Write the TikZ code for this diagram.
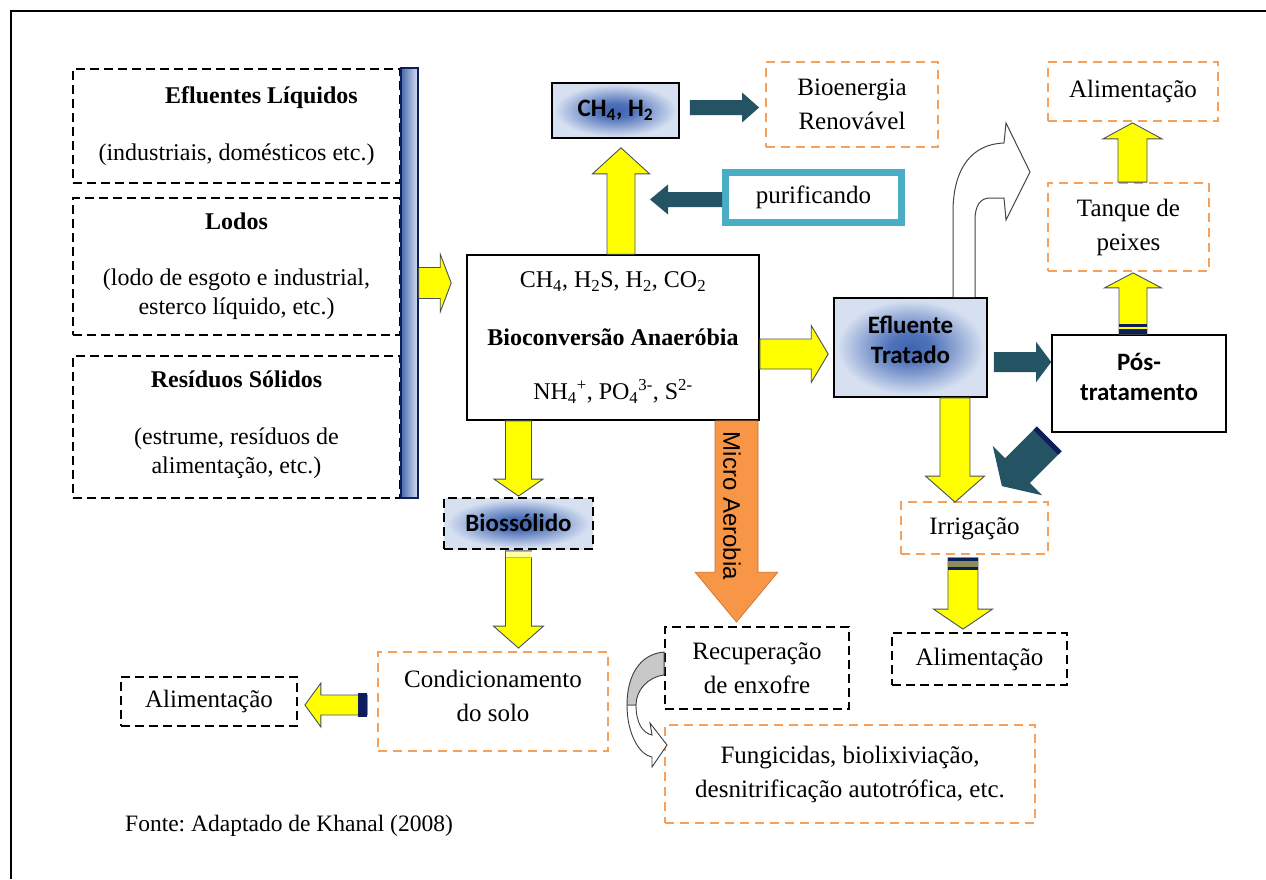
\documentclass[tikz,border=0pt]{standalone}
\usepackage{fontspec}
\setmainfont{Liberation Serif}
\newfontfamily\calib{Carlito}
\newfontfamily\arialf{Liberation Sans}
\usetikzlibrary{calc}
\frenchspacing

\definecolor{ylw}{RGB}{255,255,0}
\definecolor{yedge}{RGB}{70,80,100}
\definecolor{dteal}{RGB}{36,84,100}
\definecolor{navy}{RGB}{15,30,90}
\definecolor{oline}{RGB}{247,160,90}
\definecolor{ofill}{RGB}{247,150,70}
\definecolor{oedge}{RGB}{200,110,50}
\definecolor{purcol}{RGB}{75,172,198}
\definecolor{bdark}{RGB}{62,100,178}
\definecolor{blight}{RGB}{214,224,241}
\definecolor{olivebar}{RGB}{140,140,90}
\definecolor{cgray}{RGB}{200,200,200}

% soft blue glow used for the highlighted boxes
\pgfdeclareradialshading{boxglow}{\pgfpoint{0bp}{0bp}}{%
  color(0bp)=(bdark); color(7bp)=(bdark!88!blight); color(24bp)=(blight); color(50bp)=(blight)}

% block arrow: style, tail, tip, half shaft width, half head width, head length
\newcommand\blockarrow[6]{%
  \coordinate (hb) at ($(#3)!#6!(#2)$);
  \path[#1] ($(#2)!#4!90:(#3)$) -- ($(hb)!#4!90:(#3)$) -- ($(hb)!#5!90:(#3)$)
    -- (#3) -- ($(hb)!#5!-90:(#3)$) -- ($(hb)!#4!-90:(#3)$)
    -- ($(#2)!#4!-90:(#3)$) -- cycle;
}

\newcommand\fsL{\fontsize{24}{29}\selectfont}
\newcommand\fsM{\fontsize{25}{34}\selectfont}
\newcommand\fsS{\calib\fontsize{25}{30}\selectfont\bfseries}

\begin{document}
\begin{tikzpicture}[x=1pt,y=-1pt,
  dbox/.style={draw=black, dash pattern=on 9pt off 5pt, line width=1.8pt, fill=white,
    inner sep=0pt, align=center, font=\fsM},
  obox/.style={draw=oline, dash pattern=on 9pt off 6pt, line width=1.8pt, fill=white,
    inner sep=0pt, align=center, font=\fsM},
  sbox/.style={draw=black, line width=1.6pt, inner sep=0pt, align=center},
  gshade/.style={shading=boxglow},
  yel/.style={fill=ylw, draw=yedge, line width=0.9pt},
  dark/.style={fill=dteal},
  orng/.style={fill=ofill, draw=oedge, line width=0.6pt},
  curv/.style={draw=gray!55!black, line width=1pt, fill=white},
]
\useasboundingbox (0,0) rectangle (1266,879);

% page frame
\draw[line width=2.6pt] (11,879) -- (11,11) -- (1266,11);

% input boxes
\node[dbox, font=\fsL, minimum width=327pt, minimum height=114pt] (ef) at (236.5,126)
  {\hspace*{50pt}\textbf{Efluentes Líquidos}\\[28pt](industriais, domésticos etc.)};
\node[dbox, font=\fsL, minimum width=327pt, minimum height=137pt] (lo) at (236.5,266.5)
  {\textbf{Lodos}\\[27pt](lodo de esgoto e industrial,\\esterco líquido, etc.)};
\node[dbox, font=\fsL, minimum width=327pt, minimum height=142pt, text depth=10pt] (rs) at (236.5,427)
  {\textbf{Resíduos Sólidos}\\[28pt](estrume, resíduos de\\alimentação, etc.)};
\node[draw=navy, line width=1.5pt, left color={rgb,255:red,70;green,105;blue,170},
  right color={rgb,255:red,214;green,224;blue,242}, minimum width=17pt,
  minimum height=430pt, inner sep=0pt] (bar) at (409.5,283) {};

% digester
\node[sbox, fill=white, font=\fsL, minimum width=292pt, minimum height=165pt] (cb) at (613,337.5)
  {CH\textsubscript{4}, H\textsubscript{2}S, H\textsubscript{2}, CO\textsubscript{2}\\[29pt]
   \textbf{Bioconversão Anaeróbia}\\[25pt]
   NH\textsubscript{4}\textsuperscript{+}, PO\textsubscript{4}\textsuperscript{3-}, S\textsuperscript{2-}};

% gas line
\node[sbox, gshade, font=\fsS, minimum width=127pt, minimum height=55pt] (ch) at (615.5,110.5)
  {CH\textsubscript{4}, H\textsubscript{2}};
\node[obox, minimum width=172pt, minimum height=85pt] (bio) at (852,104.5) {Bioenergia\\Renovável};
\node[draw=purcol, line width=7pt, fill=white, font=\fsM, minimum width=176pt,
  minimum height=50pt, inner sep=0pt] (pur) at (813.5,197.5) {purificando};

% effluent line
\node[sbox, gshade, font=\fsS, minimum width=153pt, minimum height=99pt, text depth=15pt] (eft)
  at (910.5,347.5) {Efluente\\Tratado};
\node[sbox, fill=white, font=\fsS, minimum width=174pt, minimum height=97pt, text depth=14pt] (pos)
  at (1139,383.5) {Pós-\\tratamento};
\node[obox, minimum width=161pt, minimum height=88pt] (tq) at (1128.5,227) {Tanque de\\peixes};
\node[obox, minimum width=170pt, minimum height=59pt] (al1) at (1133,91.5) {Alimentação};
\node[obox, minimum width=147pt, minimum height=52pt, text depth=4pt] (irr) at (974.5,528) {Irrigação};
\node[dbox, minimum width=175pt, minimum height=52pt] (al2) at (979.5,659) {Alimentação};

% solids and sulphur lines
\node[dbox, gshade, font=\fsS, minimum width=149pt, minimum height=51pt, text depth=2pt] (bs)
  at (518.5,523.5) {Biossólido};
\node[dbox, minimum width=184pt, minimum height=82pt] (rec) at (757,668) {Recuperação\\de enxofre};
\node[obox, minimum width=370pt, minimum height=98pt] (fun) at (850,774)
  {Fungicidas, biolixiviação,\\desnitrificação autotrófica, etc.};
\node[obox, minimum width=230pt, minimum height=99pt, text depth=12pt] (cs) at (493,701.5)
  {Condicionamento\\do solo};
\node[dbox, minimum width=176pt, minimum height=49pt] (al3) at (209,701.5) {Alimentação};

\node[anchor=west, inner sep=0pt, font=\fontsize{23.5}{28}\selectfont] (fonte) at (125,826)
  {Fonte: Adaptado de Khanal (2008)};

% ---- arrows ----
% inputs -> digester
\coordinate (aT) at ($(bar.east -| cb.west)+(-15,0)$);
\blockarrow{yel}{bar.east}{aT}{15.5pt}{29pt}{11pt}

% digester -> gas
\coordinate (bS) at ($(cb.north)+(8,0)$);
\coordinate (bT) at ($(ch.south)+(5.5,9)$);
\blockarrow{yel}{bS}{bT}{14pt}{28.5pt}{26pt}

% gas -> bioenergy
\coordinate (cS) at ($(ch.east)+(10,-3)$);
\coordinate (cT) at ($(bio.west)+(-6,3)$);
\blockarrow{dark}{cS}{cT}{7.5pt}{15pt}{17pt}

% purification
\coordinate (dS) at ($(pur.west)+(0,2)$);
\coordinate (dT) at ($(pur.west)+(-72,2)$);
\blockarrow{dark}{dS}{dT}{7.5pt}{15pt}{18pt}

% digester -> treated effluent
\coordinate (eS) at ($(cb.east)+(0,16.5)$);
\coordinate (eT) at ($(eft.west)+(-5,6.5)$);
\blockarrow{yel}{eS}{eT}{15pt}{28.5pt}{17pt}

% treated effluent -> post-treatment
\coordinate (fS) at ($(eft.east)+(6,14.5)$);
\coordinate (fT) at (fS -| pos.west);
\blockarrow{dark}{fS}{fT}{10pt}{20pt}{15pt}

% post-treatment -> fish tank
\coordinate (gS) at ($(pos.north)+(-6,0)$);
\coordinate (gT) at ($(tq.south)+(4.5,1)$);
\blockarrow{yel}{gS}{gT}{14pt}{28.5pt}{15pt}
\fill[navy] ($(gS)+(-14,-10)$) rectangle ($(gS)+(14,0)$);
\fill[ylw] ($(gS)+(-14,-7.5)$) rectangle ($(gS)+(14,-5.5)$);

% fish tank -> food
\coordinate (hS) at ($(tq.north)+(4,0)$);
\coordinate (hT) at ($(al1.south)+(-0.5,1)$);
\blockarrow{yel}{hS}{hT}{14.5pt}{29.5pt}{16pt}

% treated effluent -> irrigation
\coordinate (iS) at ($(eft.south)+(44.5,0)$);
\coordinate (iT) at ($(irr.north)+(-19.5,1)$);
\blockarrow{yel}{iS}{iT}{15pt}{29.5pt}{26pt}

% irrigation -> food
\coordinate (jS) at ($(irr.south)+(-11.5,3)$);
\coordinate (jT) at ($(al2.north)+(-16.5,-3)$);
\blockarrow{yel}{jS}{jT}{15pt}{29.5pt}{20pt}
\fill[navy] ($(jS)+(-15,0)$) rectangle ($(jS)+(15,3)$);
\fill[olivebar] ($(jS)+(-15,3)$) rectangle ($(jS)+(15,9)$);
\fill[navy] ($(jS)+(-15,9)$) rectangle ($(jS)+(15,12)$);

% digester -> biosolid
\coordinate (kS) at (cb.south -| bs.north);
\coordinate (kT) at ($(bs.north)+(0,-1)$);
\blockarrow{yel}{kS}{kT}{13pt}{24.5pt}{17pt}

% biosolid -> soil conditioning
\coordinate (lS) at ($(bs.south)+(0,1)$);
\coordinate (lT) at ($(cs.north)+(25.5,-3)$);
\blockarrow{yel}{lS}{lT}{13pt}{25pt}{22pt}
\fill[gray!60] ($(lS)+(-13,0)$) rectangle ($(lS)+(13,1.5)$);
\fill[ylw!35] ($(lS)+(-13,1.5)$) rectangle ($(lS)+(13,6)$);
\fill[gray!60] ($(lS)+(-13,6)$) rectangle ($(lS)+(13,7.5)$);

% soil conditioning -> food
\coordinate (mS) at ($(cs.west)+(-10,3.5)$);
\coordinate (mT) at ($(al3.east)+(7,3.5)$);
\blockarrow{yel}{mS}{mT}{10pt}{22pt}{16pt}
\fill[navy] ($(mS)+(-9,-12)$) rectangle ($(mS)+(0,12)$);

% micro-aerobic step
\coordinate (nS) at ($(cb.south)+(123.5,0)$);
\coordinate (nT) at ($(rec.north)+(-20.5,-4)$);
\blockarrow{orng}{nS}{nT}{21.5pt}{41.5pt}{50pt}
\node[rotate=-90, inner sep=0pt, font=\arialf\fontsize{24}{28}\selectfont] (ma) at (732,506)
  {Micro Aerobia};

% post-treatment -> irrigation
\coordinate (oS) at ($(pos.south west)+(-2,6)$);
\coordinate (oT) at ($(irr.north east)+(-47,-15)$);
\blockarrow{dark}{oS}{oT}{17.5pt}{35pt}{22pt}
\coordinate (oB) at ($(oS)!5pt!(oT)$);
\fill[navy] ($(oS)!17.5pt!90:(oT)$) -- ($(oB)!17.5pt!90:(oT)$)
  -- ($(oB)!17.5pt!-90:(oT)$) -- ($(oS)!17.5pt!-90:(oT)$) -- cycle;

% treated effluent: reuse (outlined curved arrow)
\coordinate (pA) at ($(eft.north)+(42.5,0)$);
\coordinate (pB) at ($(eft.north)+(64.5,0)$);
\draw[curv] (pA) -- (953,212) .. controls (953,168) and (972,144) .. (1004,143)
  -- (1006,123) -- (1030,172) -- (1006,220) -- (1004,198)
  -- (990,198) .. controls (980,198) and (975,206) .. (975,220) -- (pB);

% sulphur recovery -> products (curved arrow)
\coordinate (qA) at ($(rec.west)+(0,-16)$);
\coordinate (qB) at ($(rec.west)+(0,7)$);
\draw[draw={rgb,255:red,60;green,60;blue,60}, line width=0.9pt, fill=white]
  (627,705) .. controls (627,735) and (640,755) .. (652,757)
  -- (652,767) -- (667,745) -- (650,723) -- (652,735)
  .. controls (642,733) and (636,722) .. (636,705) -- cycle;
\draw[draw={rgb,255:red,60;green,60;blue,60}, line width=0.9pt, fill=cgray]
  (qA) .. controls (640,654) and (627,675) .. (627,705) -- (636,705)
  .. controls (636,690) and (648,677) .. (qB) -- cycle;
\end{tikzpicture}
\end{document}
